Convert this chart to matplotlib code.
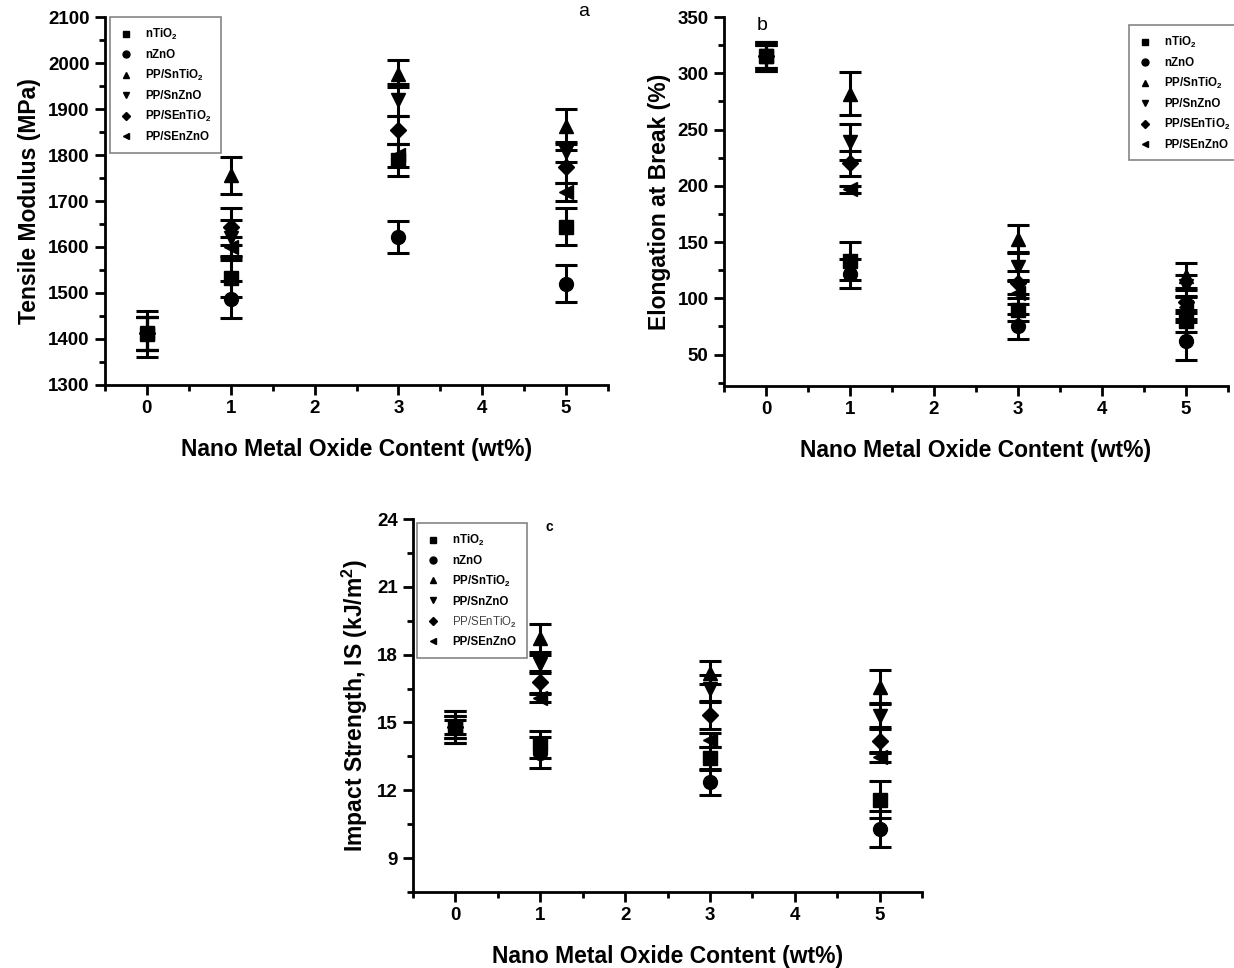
import numpy as np
import matplotlib
matplotlib.use("Agg")
import matplotlib.pyplot as plt
from matplotlib.lines import Line2D

plt.rcParams['font.family'] = ['Liberation Sans', 'DejaVu Sans']
plt.rcParams['font.weight'] = 'bold'
plt.rcParams['mathtext.fontset'] = 'custom'
plt.rcParams['mathtext.rm'] = 'Liberation Sans:bold'
plt.rcParams['mathtext.bf'] = 'Liberation Sans:bold'
plt.rcParams['mathtext.default'] = 'bf'

# loading levels (wt%)
content = [0, 1, 3, 5]

labels = ['nTiO$_2$', 'nZnO', 'PP/SnTiO$_2$', 'PP/SnZnO', 'PP/SEnTiO$_2$', 'PP/SEnZnO']
markers = ['s', 'o', '^', 'v', 'D', '<']

# (a) tensile modulus, MPa
mod_tio2 = [1410, 1532, 1789, 1644]
mod_zno = [1412, 1486, 1621, 1520]
mod_sntio2 = [1412, 1756, 1977, 1862]
mod_snzno = [1412, 1619, 1920, 1807]
mod_sentio2 = [1412, 1644, 1854, 1775]
mod_senzno = [1412, 1601, 1800, 1720]
mod_err = [[50, 40, 35, 40], [35, 40, 35, 40], [35, 40, 30, 37],
           [35, 40, 35, 22], [35, 40, 30, 35], [35, 20, 25, 20]]

# (b) elongation at break, %
elo_tio2 = [315, 133, 90, 80]
elo_zno = [315, 122, 75, 62]
elo_sntio2 = [315, 282, 153, 120]
elo_snzno = [315, 239, 128, 111]
elo_sentio2 = [315, 220, 114, 97]
elo_senzno = [315, 197, 105, 92]
elo_err = [[13, 17, 10, 10], [13, 13, 11, 17], [13, 19, 12, 11],
           [10, 16, 12, 10], [10, 11, 10, 10], [10, 3, 10, 10]]

# (c) impact strength, kJ/m2
imp_tio2 = [14.8, 14.03, 13.41, 11.59]
imp_zno = [14.8, 13.67, 12.36, 10.29]
imp_sntio2 = [14.8, 18.74, 17.21, 16.58]
imp_snzno = [14.8, 17.57, 16.5, 15.3]
imp_sentio2 = [14.8, 16.77, 15.33, 14.2]
imp_senzno = [14.8, 16.1, 14.23, 13.47]
imp_err = [[0.7, 0.6, 0.5, 0.8], [0.7, 0.7, 0.57, 0.8], [0.5, 0.6, 0.5, 0.74],
           [0.5, 0.4, 0.6, 0.5], [0.5, 0.5, 0.6, 0.5], [0.3, 0.2, 0.3, 0.2]]

mod_all = [mod_tio2, mod_zno, mod_sntio2, mod_snzno, mod_sentio2, mod_senzno]
elo_all = [elo_tio2, elo_zno, elo_sntio2, elo_snzno, elo_sentio2, elo_senzno]
imp_all = [imp_tio2, imp_zno, imp_sntio2, imp_snzno, imp_sentio2, imp_senzno]

fig = plt.figure(figsize=(12.34, 9.68), dpi=100)
ax_a = fig.add_axes([0.0851, 0.6023, 0.4076, 0.3801])
ax_b = fig.add_axes([0.5867, 0.6012, 0.4084, 0.3812])
ax_c = fig.add_axes([0.3347, 0.0785, 0.4125, 0.3853])


def draw(ax, series, errs):
    for vals, err, m in zip(series, errs, markers):
        ms = 8 if m == 'D' else 10
        ax.errorbar(content, vals, yerr=err, fmt=m, color='black', ms=ms,
                    elinewidth=2.2, capsize=8, capthick=2.2, linestyle='none')
    ax.set_xlim(-0.5, 5.5)
    ax.set_xticks(range(0, 6))
    ax.set_xticks(np.arange(-0.5, 5.6, 0.5), minor=True)
    ax.spines['top'].set_visible(False)
    ax.spines['right'].set_visible(False)
    ax.spines['left'].set_linewidth(2)
    ax.spines['bottom'].set_linewidth(2)
    ax.tick_params(which='major', direction='out', length=7, width=2, labelsize=13.5, pad=4)
    ax.tick_params(which='minor', direction='out', length=4, width=2)
    ax.set_xlabel('Nano Metal Oxide Content (wt%)', fontsize=16.5, fontweight='bold', labelpad=15)


def add_legend(ax, anchor, fig_coords=False):
    handles = [Line2D([], [], marker=m, color='black', linestyle='none',
                      markersize=4 if m == 'D' else 5) for m in markers]
    kw = dict(loc='upper left', frameon=True, fancybox=False, fontsize=8.3,
              labelspacing=0.6, handletextpad=1.2, borderpad=0.85,
              handlelength=1.0, borderaxespad=0)
    if fig_coords:
        leg = ax.legend(handles, labels, bbox_to_anchor=anchor,
                        bbox_transform=fig.transFigure, **kw)
    else:
        leg = ax.legend(handles, labels, bbox_to_anchor=anchor, **kw)
    leg.get_frame().set_edgecolor('#666666')
    leg.get_frame().set_linewidth(1.2)
    return leg


# panel a
draw(ax_a, mod_all, mod_err)
ax_a.set_ylim(1300, 2100)
ax_a.set_yticks(np.arange(1300, 2101, 100))
ax_a.set_yticks(np.arange(1300, 2101, 50), minor=True)
ax_a.set_ylabel('Tensile Modulus (MPa)', fontsize=16.5, fontweight='bold', labelpad=5)
add_legend(ax_a, (0.01, 1.0))
fig.text(584 / 1234, 1 - 12 / 968, 'a', fontsize=14, fontweight='normal', ha='center', va='center')

# panel b
draw(ax_b, elo_all, elo_err)
ax_b.set_ylim(22, 350)
ax_b.set_yticks(np.arange(50, 351, 50))
ax_b.set_yticks(np.arange(25, 351, 25), minor=True)
ax_b.set_ylabel('Elongation at Break (%)', fontsize=16.5, fontweight='bold', labelpad=5)
add_legend(ax_b, (1129 / 1234, 1 - 25 / 968), fig_coords=True)
fig.text(762 / 1234, 1 - 25 / 968, 'b', fontsize=14, fontweight='normal', ha='center', va='center')

# panel c
draw(ax_c, imp_all, imp_err)
ax_c.set_ylim(8, 24)
ax_c.set_yticks(np.arange(9, 25, 3))
ax_c.set_yticks(np.arange(7.5, 24.1, 1.5), minor=True)
ax_c.set_ylabel('Impact Strength, IS (kJ/m$^2$)', fontsize=16.5, fontweight='bold', labelpad=5)
leg_c = add_legend(ax_c, (0.008, 0.99))
leg_c.get_texts()[4].set_fontweight('normal')
leg_c.get_texts()[4].set_color('#444444')
fig.text(549 / 1234, 1 - 527 / 968, 'c', fontsize=10, fontweight='bold', ha='center', va='center')

fig.savefig('out.png', dpi=100)
